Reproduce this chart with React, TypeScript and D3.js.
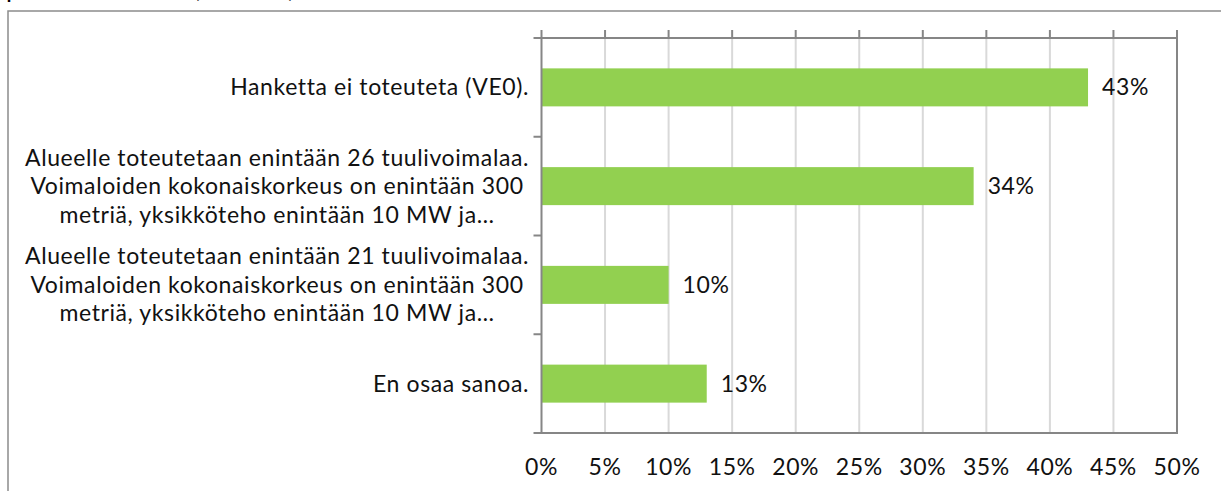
import React, { useEffect, useRef } from "react";
import * as d3 from "d3";

const categories: string[][] = [
  ["Hanketta ei toteuteta (VE0)."],
  [
    "Alueelle toteutetaan enintään 26 tuulivoimalaa.",
    "Voimaloiden kokonaiskorkeus on enintään 300",
    "metriä, yksikköteho enintään 10 MW ja…",
  ],
  [
    "Alueelle toteutetaan enintään 21 tuulivoimalaa.",
    "Voimaloiden kokonaiskorkeus on enintään 300",
    "metriä, yksikköteho enintään 10 MW ja…",
  ],
  ["En osaa sanoa."],
];
const values: number[] = [43, 34, 10, 13];
const ticks: number[] = [0, 5, 10, 15, 20, 25, 30, 35, 40, 45, 50];

const W = 1221;
const H = 491;
const FONT = "Lato, 'Noto Sans', sans-serif";
const FS = 23;
const LS = 0.6;

export default function App() {
  const ref = useRef<SVGSVGElement | null>(null);

  useEffect(() => {
    const svg = d3.select(ref.current!);
    svg.selectAll("*").remove();

    const left = 541.5, right = 1177, top = 38, bottom = 433;
    const x = d3.scaleLinear().domain([0, 50]).range([left, right]);
    const y = d3
      .scaleBand<number>()
      .domain(categories.map((_, i) => i))
      .range([top, bottom])
      .paddingInner(0)
      .paddingOuter(0);

    // clipped title remnant
    [
      { t: "p", x: 6 },
      { t: "(", x: 193 },
      { t: ")", x: 288 },
    ].forEach((c) =>
      svg
        .append("text")
        .attr("x", c.x)
        .attr("y", -3)
        .attr("font-family", FONT)
        .attr("font-size", 26)
        .attr("fill", "#000")
        .text(c.t)
    );

    // outer frame
    svg
      .append("rect")
      .attr("x", 8)
      .attr("y", 11)
      .attr("width", 1240)
      .attr("height", 520)
      .attr("fill", "none")
      .attr("stroke", "#8c8c8c")
      .attr("stroke-width", 1.5);

    // gridlines
    svg
      .append("g")
      .selectAll("line")
      .data(ticks.slice(1, -1))
      .join("line")
      .attr("x1", (d) => x(d))
      .attr("x2", (d) => x(d))
      .attr("y1", top)
      .attr("y2", bottom)
      .attr("stroke", "#d9d9d9")
      .attr("stroke-width", 2);

    // bars
    const bh = 38;
    svg
      .append("g")
      .selectAll("rect")
      .data(values)
      .join("rect")
      .attr("x", x(0))
      .attr("y", (_, i) => y(i)! + y.bandwidth() / 2 - bh / 2)
      .attr("width", (d) => x(d) - x(0))
      .attr("height", bh)
      .attr("fill", "#92d050");

    // plot border
    const axisColor = "#868686";
    svg
      .append("rect")
      .attr("x", left)
      .attr("y", top)
      .attr("width", right - left)
      .attr("height", bottom - top)
      .attr("fill", "none")
      .attr("stroke", axisColor)
      .attr("stroke-width", 2);

    // top ticks
    svg
      .append("g")
      .selectAll("line")
      .data(ticks)
      .join("line")
      .attr("x1", (d) => x(d))
      .attr("x2", (d) => x(d))
      .attr("y1", top)
      .attr("y2", top - 8)
      .attr("stroke", axisColor)
      .attr("stroke-width", 2);

    // left ticks
    const bounds = [...categories.map((_, i) => y(i)!), bottom];
    svg
      .append("g")
      .selectAll("line")
      .data(bounds)
      .join("line")
      .attr("x1", left - 8)
      .attr("x2", left)
      .attr("y1", (d) => d)
      .attr("y2", (d) => d)
      .attr("stroke", axisColor)
      .attr("stroke-width", 2);

    // tick labels
    svg
      .append("g")
      .selectAll("text")
      .data(ticks)
      .join("text")
      .attr("x", (d) => x(d))
      .attr("y", 475)
      .attr("text-anchor", "middle")
      .attr("font-family", FONT)
      .attr("font-size", FS)
      .attr("letter-spacing", LS)
      .attr("fill", "#111")
      .text((d) => `${d}%`);

    // value labels
    svg
      .append("g")
      .selectAll("text")
      .data(values)
      .join("text")
      .attr("x", (d) => x(d) + 14)
      .attr("y", (_, i) => y(i)! + y.bandwidth() / 2 + 8)
      .attr("font-family", FONT)
      .attr("font-size", FS)
      .attr("letter-spacing", LS)
      .attr("fill", "#111")
      .text((d) => `${d}%`);

    // category labels
    const labelRight = 529;
    const lh = 28.5;
    categories.forEach((lines, i) => {
      const cy = y(i)! + y.bandwidth() / 2;
      const g = svg.append("g");
      const texts = lines.map((ln, j) =>
        g
          .append("text")
          .attr("y", cy + 8 + (j - (lines.length - 1) / 2) * lh)
          .attr("font-family", FONT)
          .attr("font-size", FS)
          .attr("letter-spacing", LS)
          .attr("fill", "#111")
          .attr("text-anchor", "middle")
          .text(ln)
      );
      const widths = texts.map((t) => (t.node() as SVGTextElement).getComputedTextLength());
      const maxW = Math.max(...widths);
      const cx = labelRight - maxW / 2;
      texts.forEach((t) => t.attr("x", cx));
    });
  }, []);

  return (
    <svg
      ref={ref}
      width={W}
      height={H}
      style={{ position: "absolute", left: 0, top: 0, background: "#fff" }}
    />
  );
}
